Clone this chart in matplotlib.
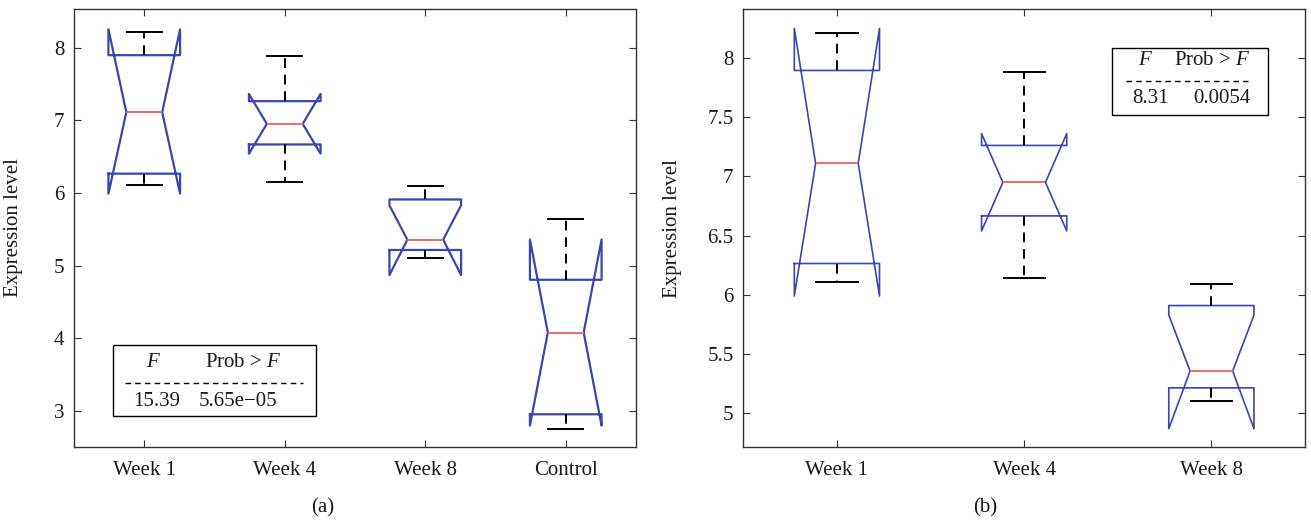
import numpy as np
import matplotlib
matplotlib.use("Agg")
import matplotlib.pyplot as plt
from matplotlib.patches import Rectangle
from matplotlib.ticker import FuncFormatter

plt.rcParams["font.family"] = ["Liberation Serif", "DejaVu Serif"]
plt.rcParams["mathtext.fontset"] = "custom"
plt.rcParams["mathtext.rm"] = "Liberation Serif"
plt.rcParams["mathtext.it"] = "Liberation Serif:italic"

# notched box summaries (same groups in both panels)
groups = ["Week 1", "Week 4", "Week 8", "Control"]
whislo = [6.11, 6.145, 5.10, 2.755]
q1 = [6.265, 6.667, 5.215, 2.955]
med = [7.11, 6.95, 5.357, 4.08]
q3 = [7.895, 7.262, 5.91, 4.805]
whishi = [8.208, 7.884, 6.095, 5.64]
cilo = [5.99, 6.54, 4.87, 2.80]
cihi = [8.25, 7.362, 5.83, 5.36]

# ANOVA tables shown inside each panel
anova_a = ("15.39", "5.65e\u221205")
anova_b = ("8.31", "0.0054")

BLUE = "#3c45b0"
RED = "#f26868"
TXT = "#1a1a1a"
FS = 15


def stats_for(idx):
    return [dict(label=groups[i], whislo=whislo[i], q1=q1[i], med=med[i],
                 q3=q3[i], whishi=whishi[i], cilo=cilo[i], cihi=cihi[i],
                 fliers=[]) for i in idx]


def draw(ax, idx, width, capw, lw):
    pos = np.arange(1, len(idx) + 1)
    ax.bxp(stats_for(idx), positions=pos, widths=width, capwidths=capw,
           shownotches=True, showfliers=False,
           boxprops=dict(color=BLUE, lw=lw),
           whiskerprops=dict(color="black", lw=1.4, ls=(0, (5, 3.5))),
           capprops=dict(color="black", lw=1.4),
           medianprops=dict(color=RED, lw=1.4))
    ax.set_xticks(pos)
    ax.set_xticklabels([groups[i] for i in idx])
    ax.set_xlim(0.5, len(idx) + 0.5)
    ax.tick_params(direction="in", top=True, right=True, length=5,
                   labelsize=FS, colors="#333333", labelcolor=TXT)
    ax.tick_params(axis="x", pad=10)
    ax.tick_params(axis="y", pad=7)
    for s in ax.spines.values():
        s.set_color("#333333")
        s.set_linewidth(1.0)
    ax.yaxis.set_major_formatter(FuncFormatter(lambda v, p: f"{v:g}"))
    ax.set_ylabel("Expression level", fontsize=FS, color=TXT)


def table(ax, box, fx, px, hy, dash, vx, vy, vals):
    x0, x1, y0, y1 = box
    ax.add_patch(Rectangle((x0, y0), x1 - x0, y1 - y0, transform=ax.transAxes,
                           fill=False, ec="black", lw=1.0, zorder=5))
    ax.text(fx, hy, "$F$", transform=ax.transAxes, ha="center", va="center",
            fontsize=FS, color=TXT)
    ax.text(px, hy, "Prob > $F$", transform=ax.transAxes, ha="center",
            va="center", fontsize=FS, color=TXT)
    ax.plot(dash[:2], [dash[2]] * 2, transform=ax.transAxes, color="black",
            lw=1.0, ls=(0, (4, 3)))
    ax.text(vx[0], vy, vals[0], transform=ax.transAxes, ha="center",
            va="center", fontsize=FS, color=TXT)
    ax.text(vx[1], vy, vals[1], transform=ax.transAxes, ha="center",
            va="center", fontsize=FS, color=TXT)


fig = plt.figure(figsize=(13.11, 5.26), dpi=100)
ax1 = fig.add_axes([0.05645, 0.15019, 0.42868, 0.83270])
ax2 = fig.add_axes([0.56697, 0.14962, 0.42845, 0.83327])

draw(ax1, [0, 1, 2, 3], 0.51, 0.25, 1.6)
ax1.set_ylim(2.505, 8.53)
ax1.set_yticks([3, 4, 5, 6, 7, 8])
ax1.yaxis.set_label_coords(-0.09, 0.5)
table(ax1, (0.070, 0.4306, 0.0708, 0.2329), 0.1406, 0.3007, 0.1918,
      (0.0907, 0.4075, 0.1468), (0.1477, 0.2918), 0.1034, anova_a)

draw(ax2, [0, 1, 2], 0.455, 0.22, 1.2)
ax2.set_ylim(4.713, 8.414)
ax2.set_yticks([5, 5.5, 6, 6.5, 7, 7.5, 8])
ax2.yaxis.set_label_coords(-0.109, 0.5)
table(ax2, (0.657, 0.9347, 0.7575, 0.9103), 0.7164, 0.8344, 0.8814,
      (0.6808, 0.899, 0.8357), (0.7253, 0.8517), 0.7947, anova_b)

fig.text(0.2464, 0.034, "(a)", ha="center", va="center", fontsize=FS, color=TXT)
fig.text(0.7513, 0.034, "(b)", ha="center", va="center", fontsize=FS, color=TXT)

fig.savefig("out.png", dpi=100)
